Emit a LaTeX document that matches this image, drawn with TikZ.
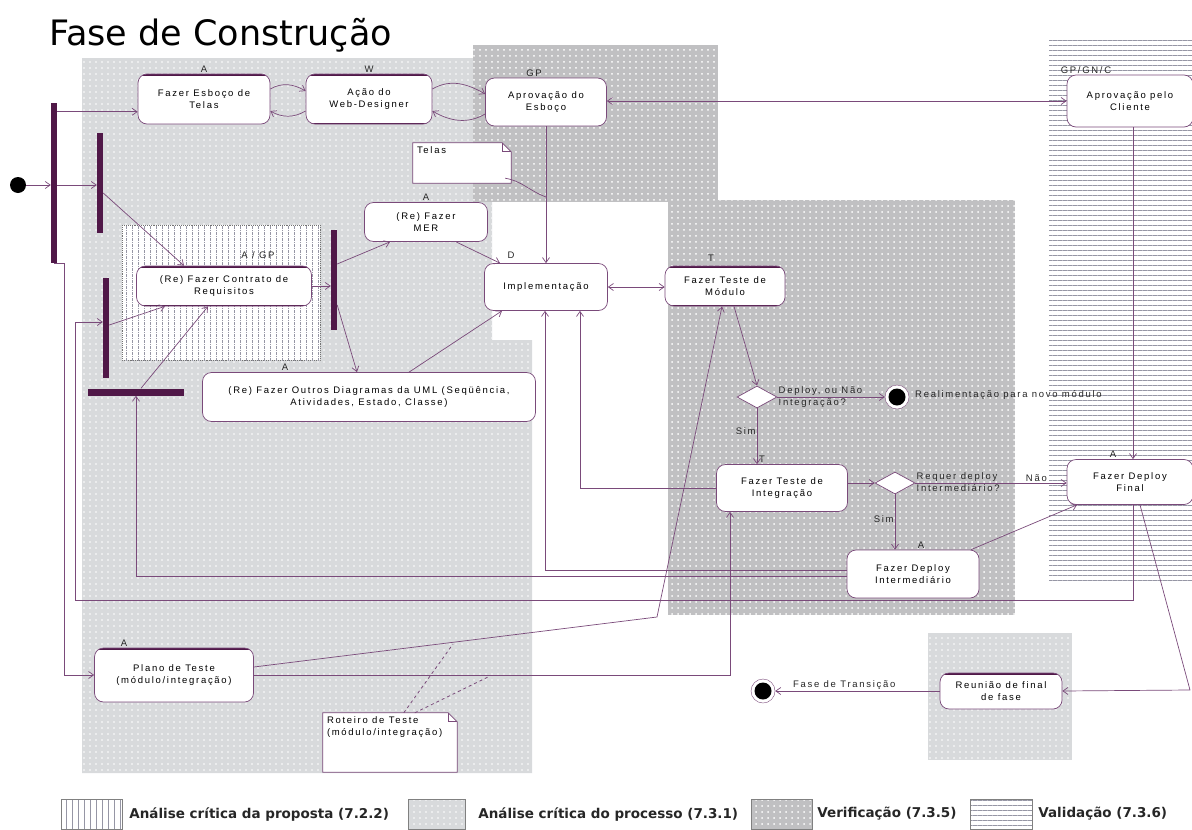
\documentclass[tikz,border=0pt]{standalone}
\usepackage{fontspec}
\setmainfont{Liberation Sans}
\newfontfamily\titlefont{DejaVu Sans}
\newfontfamily\nodefont[LetterSpace=18]{Liberation Sans}
\newfontfamily\legendfont{DejaVu Sans}
\usetikzlibrary{arrows.meta, shapes.geometric, patterns.meta, backgrounds, positioning}

\definecolor{flowc}{RGB}{122,74,122}
\definecolor{barc}{RGB}{80,24,72}
\definecolor{procc}{RGB}{216,218,220}
\definecolor{verifc}{RGB}{192,192,194}
\definecolor{hatchc}{RGB}{150,150,165}

\tikzset{
  activity/.style={draw=flowc, line width=0.7pt, fill=white, rounded corners=9pt,
    align=center, inner sep=2pt, font=\nodefont\fontsize{9.5}{11.5}\selectfont},
  topbar/.style={path picture={\draw[barc, line width=3pt]
      (path picture bounding box.north west) -- (path picture bounding box.north east);}},
  bothbars/.style={path picture={\draw[barc, line width=3pt]
      (path picture bounding box.north west) -- (path picture bounding box.north east)
      (path picture bounding box.south west) -- (path picture bounding box.south east);}},
  lbl/.style={font=\nodefont\fontsize{9.5}{11.5}\selectfont, inner sep=1pt, text=black!85},
  forkbar/.style={fill=barc, draw=none, inner sep=0pt},
  decision/.style={diamond, draw=flowc, line width=0.7pt, fill=white, aspect=1.8,
    minimum width=40pt, minimum height=22pt, inner sep=0pt},
  startnode/.style={circle, fill=black, minimum size=16pt, inner sep=0pt},
  endnode/.style={circle, draw=flowc, fill=white, minimum size=24pt, inner sep=0pt,
    path picture={\fill[black] (path picture bounding box.center) circle (8.5pt);}},
  note/.style={draw=none, inner sep=0pt},
  notetext/.style={anchor=north west, align=left, inner sep=4pt,
    font=\nodefont\fontsize{9.5}{11.5}\selectfont},
  flow/.style={draw=flowc, line width=0.7pt, -{Straight Barb[length=5pt, width=7pt]}},
  flowboth/.style={flow, {Straight Barb[length=5pt, width=7pt]}-{Straight Barb[length=5pt, width=7pt]}},
  link/.style={draw=flowc, line width=0.7pt},
  anchorline/.style={draw=flowc, line width=0.8pt, dashed},
  procarea/.style={fill=procc, postaction={pattern={Dots[distance=6pt, radius=0.9pt]}, pattern color=white}},
  verifarea/.style={fill=verifc, postaction={pattern={Dots[distance=6pt, radius=1pt]}, pattern color=white}},
  validarea/.style={fill=white, postaction={pattern={Lines[angle=0, distance=5pt, line width=0.8pt]}, pattern color=hatchc}},
  propoarea/.style={fill=white, postaction={pattern={Lines[angle=90, distance=6pt, line width=0.6pt]}, pattern color=hatchc}},
  legbox/.style={minimum width=61pt, minimum height=30pt, inner sep=0pt,
    postaction={draw=gray, line width=0.6pt}},
  legtext/.style={font=\legendfont\bfseries\fontsize{13.5}{16}\selectfont, text=black!85, inner sep=0pt}
}

\newcommand{\noteframe}[1]{%
  \begin{scope}[on background layer]
    \draw[flowc, line width=0.7pt, fill=white] (#1.north west) -- ([xshift=-9pt]#1.north east)
      -- ([yshift=-9pt]#1.north east) -- (#1.south east) -- (#1.south west) -- cycle;
    \draw[flowc, line width=0.7pt] ([xshift=-9pt]#1.north east) |- ([yshift=-9pt]#1.north east);
  \end{scope}}

\begin{document}
\begin{tikzpicture}[x=1pt, y=-1pt]
  \useasboundingbox (0,0) rectangle (1192,830);

  % areas
  \begin{scope}[on background layer]
    \path[procarea] (82,58) -- (475,58) -- (475,200) -- (492,200) -- (492,340)
      -- (532,340) -- (532,773) -- (82,773) -- cycle;
    \path[verifarea] (473,45) rectangle (718,202);
    \path[verifarea] (668,200) rectangle (1015,615);
    \path[validarea] (1049,37) rectangle (1192,583);
    \path[procarea] (928,633) rectangle (1072,760);
    \path[propoarea, draw=black!55, densely dotted, line width=0.9pt] (122,225) rectangle (320,360);
  \end{scope}

  \node[anchor=north west, inner sep=0pt, font=\titlefont\fontsize{35}{40}\selectfont] (title) at (49,18) {Fase de Construção};

  % start and fork bars
  \node[startnode] (init) at (18,185) {};
  \node[forkbar, minimum width=6pt, minimum height=160pt] (barA) at (54,183) {};
  \node[forkbar, minimum width=6pt, minimum height=100pt] (barB) at (100,183) {};
  \node[forkbar, minimum width=6pt, minimum height=100pt] (barC) at (106,328) {};
  \node[forkbar, minimum width=96pt, minimum height=7pt] (barD) at (136,392) {};
  \node[forkbar, minimum width=6pt, minimum height=100pt] (barE) at (334,280) {};

  % activities
  \node[activity, topbar, minimum width=132, minimum height=50, label={[lbl]above:A}] (esboco) at (204,99) {Fazer Esboço de\\Telas};
  \node[activity, bothbars, minimum width=126, minimum height=50, label={[lbl]above:W}] (webdes) at (369,99) {Ação do\\Web-Designer};
  \node[activity, minimum width=121, minimum height=48, label={[lbl, xshift=-12pt]above:GP}] (aprovesb) at (546,102) {Aprovação do\\Esboço};
  \node[activity, minimum width=126, minimum height=52, label={[lbl, xshift=-44pt]above:GP/GN/C}] (cliente) at (1130,101) {Aprovação pelo\\Cliente};
  \node[activity, minimum width=123, minimum height=39, label={[lbl]above:A}] (mer) at (426,222) {(Re) Fazer\\MER};
  \node[activity, bothbars, minimum width=175, minimum height=40, label={[lbl, xshift=34pt, yshift=6pt]above:A / GP}] (contrato) at (224,286) {(Re) Fazer Contrato de\\Requisitos};
  \node[activity, minimum width=333, minimum height=49, label={[lbl, xshift=-84pt]above:A}] (outros) at (369,397) {(Re) Fazer Outros Diagramas da UML (Seqüência,\\Atividades, Estado, Classe)};
  \node[activity, minimum width=123, minimum height=47, label={[lbl, xshift=-35pt, yshift=3pt]above:D}] (impl) at (546,287) {Implementação};
  \node[activity, bothbars, minimum width=120, minimum height=40, label={[lbl, xshift=-14pt, yshift=3pt]above:T}] (modulo) at (725,286) {Fazer Teste de\\Módulo};
  \node[decision] (dec1) at (757,397) {};
  \node[endnode] (realim) at (897,397) {};
  \node[lbl, anchor=west] (realimtxt) at (914,395) {Realimentação para novo módulo};
  \node[activity, minimum width=131, minimum height=47, label={[lbl, xshift=-20pt]above:T}] (integ) at (782,488) {Fazer Teste de\\Integração};
  \node[decision] (dec2) at (895,483) {};
  \node[activity, minimum width=132, minimum height=48, label={[lbl, xshift=8pt]above:A}] (deployint) at (913,574) {Fazer Deploy\\Intermediário};
  \node[activity, minimum width=126, minimum height=45, label={[lbl, xshift=-17pt]above:A}] (deployfin) at (1130,482) {Fazer Deploy\\Final};
  \node[activity, topbar, minimum width=159, minimum height=54, label={[lbl, xshift=-50pt]above:A}] (plano) at (174,675) {Plano de Teste\\(módulo/integração)};
  \node[activity, topbar, minimum width=122, minimum height=36] (reuniao) at (1001,691) {Reunião de final\\de fase};
  \node[endnode] (transicao) at (763,691) {};

  % notes
  \node[note, minimum width=98, minimum height=40, label={[notetext]north west:Telas}] (telas) at (462,163) {};
  \noteframe{telas}
  \node[note, minimum width=134, minimum height=59, label={[notetext]north west:Roteiro de Teste\\(módulo/integração)}] (roteiro) at (390,742.5) {};
  \noteframe{roteiro}

  \coordinate (telasend) at (546,197);
  \coordinate (pbend) at (657,617);
  \coordinate (rcorner) at (1190,690);
  \coordinate (rotA) at (453,644);
  \coordinate (rotB) at (488,677);

  % flows from start
  \draw[flow] (init) -- (barA.west |- init);
  \draw[flow] ([yshift=-9pt]barA.north east) -- ([yshift=-9pt]barA.north east -| esboco.west);
  \draw[flow] (barA.east |- init) -- (barB.west |- init);
  \draw[flow] (barA.south) -- ++(10,0) |- (plano.west);
  \draw[flow] ([yshift=-10pt]barB.east) -- ([xshift=-40pt]contrato.north);
  \draw[flow] ([yshift=3pt]barC.east) -- ([xshift=-59pt]contrato.south);
  \draw[flow] ([xshift=5pt]barD.north) -- ([xshift=-16pt]contrato.south);
  \draw[flow] (contrato.east) -- (barE.west |- contrato.east);
  \draw[flow] ([yshift=16pt]barE.east) -- ([xshift=-36pt]mer.south);
  \draw[flow] ([yshift=-25pt]barE.east) -- ([xshift=-12pt]outros.north);

  % screens loop
  \draw[flow] ([yshift=10pt]esboco.east) to[out=30, in=150] ([yshift=8pt]webdes.west);
  \draw[flow] ([yshift=-12pt]webdes.west) to[out=-150, in=-30] ([yshift=-12pt]esboco.east);
  \draw[flow] ([yshift=10pt]webdes.east) to[out=30, in=150] ([yshift=8pt]aprovesb.west);
  \draw[flow] ([yshift=-12pt]aprovesb.west) to[out=-150, in=-30] ([yshift=-12pt]webdes.east);
  \draw[flowboth] (aprovesb.east |- cliente.west) -- (cliente.west);
  \draw[flow] (impl.north |- aprovesb.south) -- (impl.north);
  \draw[link] ([xshift=-6pt, yshift=5pt]telas.south east) to[out=-10, in=160] (telasend);
  \draw[flow] ([xshift=3pt]cliente.south) -- ([xshift=3pt]deployfin.north);

  % implementation and tests
  \draw[flow] ([xshift=30pt]mer.south) -- ([xshift=-46pt]impl.north);
  \draw[flow] ([xshift=40pt]outros.north) -- ([xshift=-44pt]impl.south);
  \draw[flowboth] (impl.east) -- (impl.east -| modulo.west);
  \draw[flow] ([xshift=9pt]modulo.south) -- (dec1.north);
  \draw[flow] (dec1.east) -- node[lbl, anchor=south west, pos=0]{Deploy, ou Não}
    node[lbl, anchor=north west, pos=0]{Integração?} (realim);
  \draw[flow] (dec1.south) -- node[lbl, anchor=east, pos=0.4]{Sim} (dec1.south |- integ.north);
  \draw[flow] (integ.west) -| ([xshift=34pt]impl.south);
  \draw[flow] ([yshift=4pt]deployint.west) -| ([xshift=-1pt]impl.south);
  \draw[flow] (integ.east |- dec2.west) -- (dec2.west);
  \draw[flow] (dec2.east) -- node[lbl, anchor=south west, pos=0]{Requer deploy}
    node[lbl, anchor=north west, pos=0]{Intermediário?}
    node[lbl, anchor=south, pos=0.8]{Não} (dec2.east -| deployfin.west);
  \draw[flow] (dec2.south) -- node[lbl, anchor=east, pos=0.45]{Sim} (dec2.south |- deployint.north);
  \draw[flow] ([xshift=58pt]deployint.north) -- ([xshift=-53pt]deployfin.south);
  \draw[flow] ([yshift=-2pt]deployint.west) -| (barD.south);
  \draw[flow] ([xshift=3pt]deployfin.south) |- (75,600) |- ([yshift=6pt]barC.west);
  \draw[flow] ([xshift=10pt]deployfin.south) -- (rcorner) -- (reuniao.east);
  \draw[flow] (reuniao.west) -- node[lbl, anchor=south, pos=0.58]{Fase de Transição} (transicao);

  % test plan
  \draw[flow] ([yshift=8pt]plano.east) -- (pbend) -- ([xshift=-3pt]modulo.south);
  \draw[flow] (plano.east) -| ([xshift=-52pt]integ.south);
  \draw[anchorline] ([xshift=81pt]roteiro.north west) -- (rotA);
  \draw[anchorline] ([xshift=92pt]roteiro.north west) -- (rotB);

  % legend
  \node[propoarea, legbox] (legprop) at (91.5,814) {};
  \node[legtext, right=7pt of legprop] (legproptxt) {Análise crítica da proposta (7.2.2)};
  \node[procarea, legbox, minimum width=57pt] (legproc) at (436.5,814) {};
  \node[legtext, right=13pt of legproc] (legproctxt) {Análise crítica do processo (7.3.1)};
  \node[verifarea, legbox] (legverif) at (781.5,814) {};
  \node[legtext, right=5pt of legverif] (legveriftxt) {Verificação (7.3.5)};
  \node[validarea, legbox, minimum width=62pt] (legvalid) at (1001,814) {};
  \node[legtext, right=6pt of legvalid] (legvalidtxt) {Validação (7.3.6)};
\end{tikzpicture}
\end{document}
